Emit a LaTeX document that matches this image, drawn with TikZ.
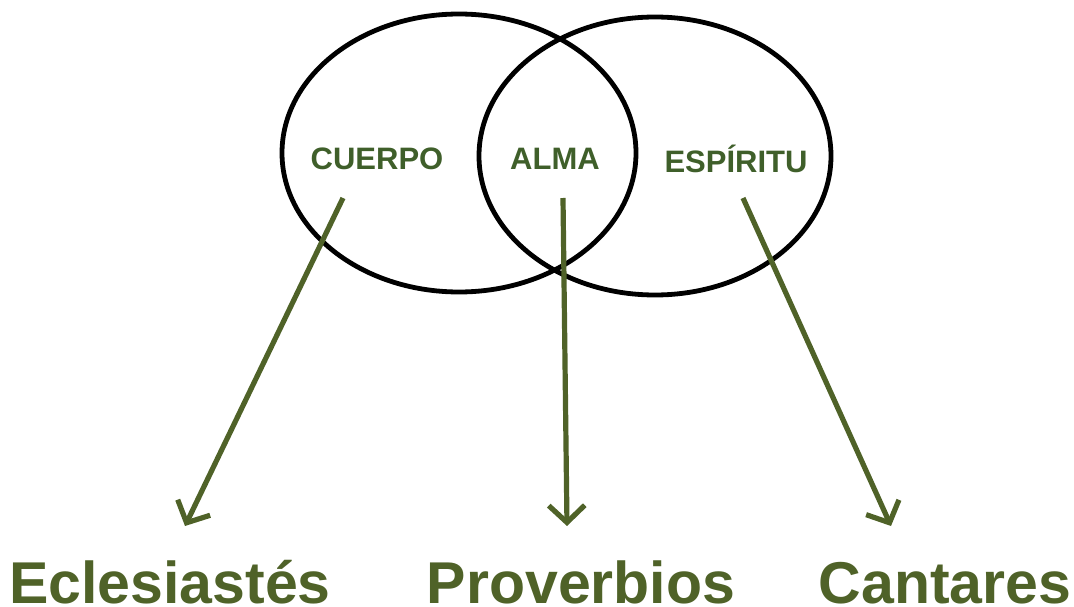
\documentclass[tikz,border=0pt]{standalone}
\usepackage{fontspec}
\setmainfont{Liberation Sans}
\usetikzlibrary{arrows.meta}
\definecolor{olive}{HTML}{4F6228}
\definecolor{dolive}{HTML}{3F5F2A}
\tikzset{
  ring/.style={draw=black,line width=4.8pt},
  lbl/.style={text=dolive,font=\bfseries\fontsize{31}{32}\selectfont,inner sep=0pt},
  book/.style={text=olive,font=\bfseries\fontsize{59}{60}\selectfont,inner sep=0pt,anchor=base},
  link/.style={draw=olive,line width=5.2pt,-{Straight Barb[length=17pt,width=36pt,line width=5.2pt]}}
}
\begin{document}
\begin{tikzpicture}[x=1pt,y=-1pt]
\useasboundingbox (0,0) rectangle (1074,607);
\draw[ring] (459,153) ellipse [x radius=177, y radius=139];
\draw[ring] (655,156) ellipse [x radius=176, y radius=139];
\node[lbl] (c) at (377,159) {CUERPO};
\node[lbl] (a) at (555,159) {ALMA};
\node[lbl] (s) at (736,159) {ESPÍRITU};
\coordinate (c1) at (343,198);
\coordinate (a1) at (563,198);
\coordinate (s1) at (743,198);
\coordinate (c2) at (185,526);
\coordinate (a2) at (567,526);
\coordinate (s2) at (891,526);
\draw[link] (c1) -- (c2);
\draw[link] (a1) -- (a2);
\draw[link] (s1) -- (s2);
\node[book] (e) at (170,603) {Eclesiastés};
\node[book] (p) at (581,603) {Proverbios};
\node[book] (k) at (945,603) {Cantares};
\end{tikzpicture}
\end{document}
